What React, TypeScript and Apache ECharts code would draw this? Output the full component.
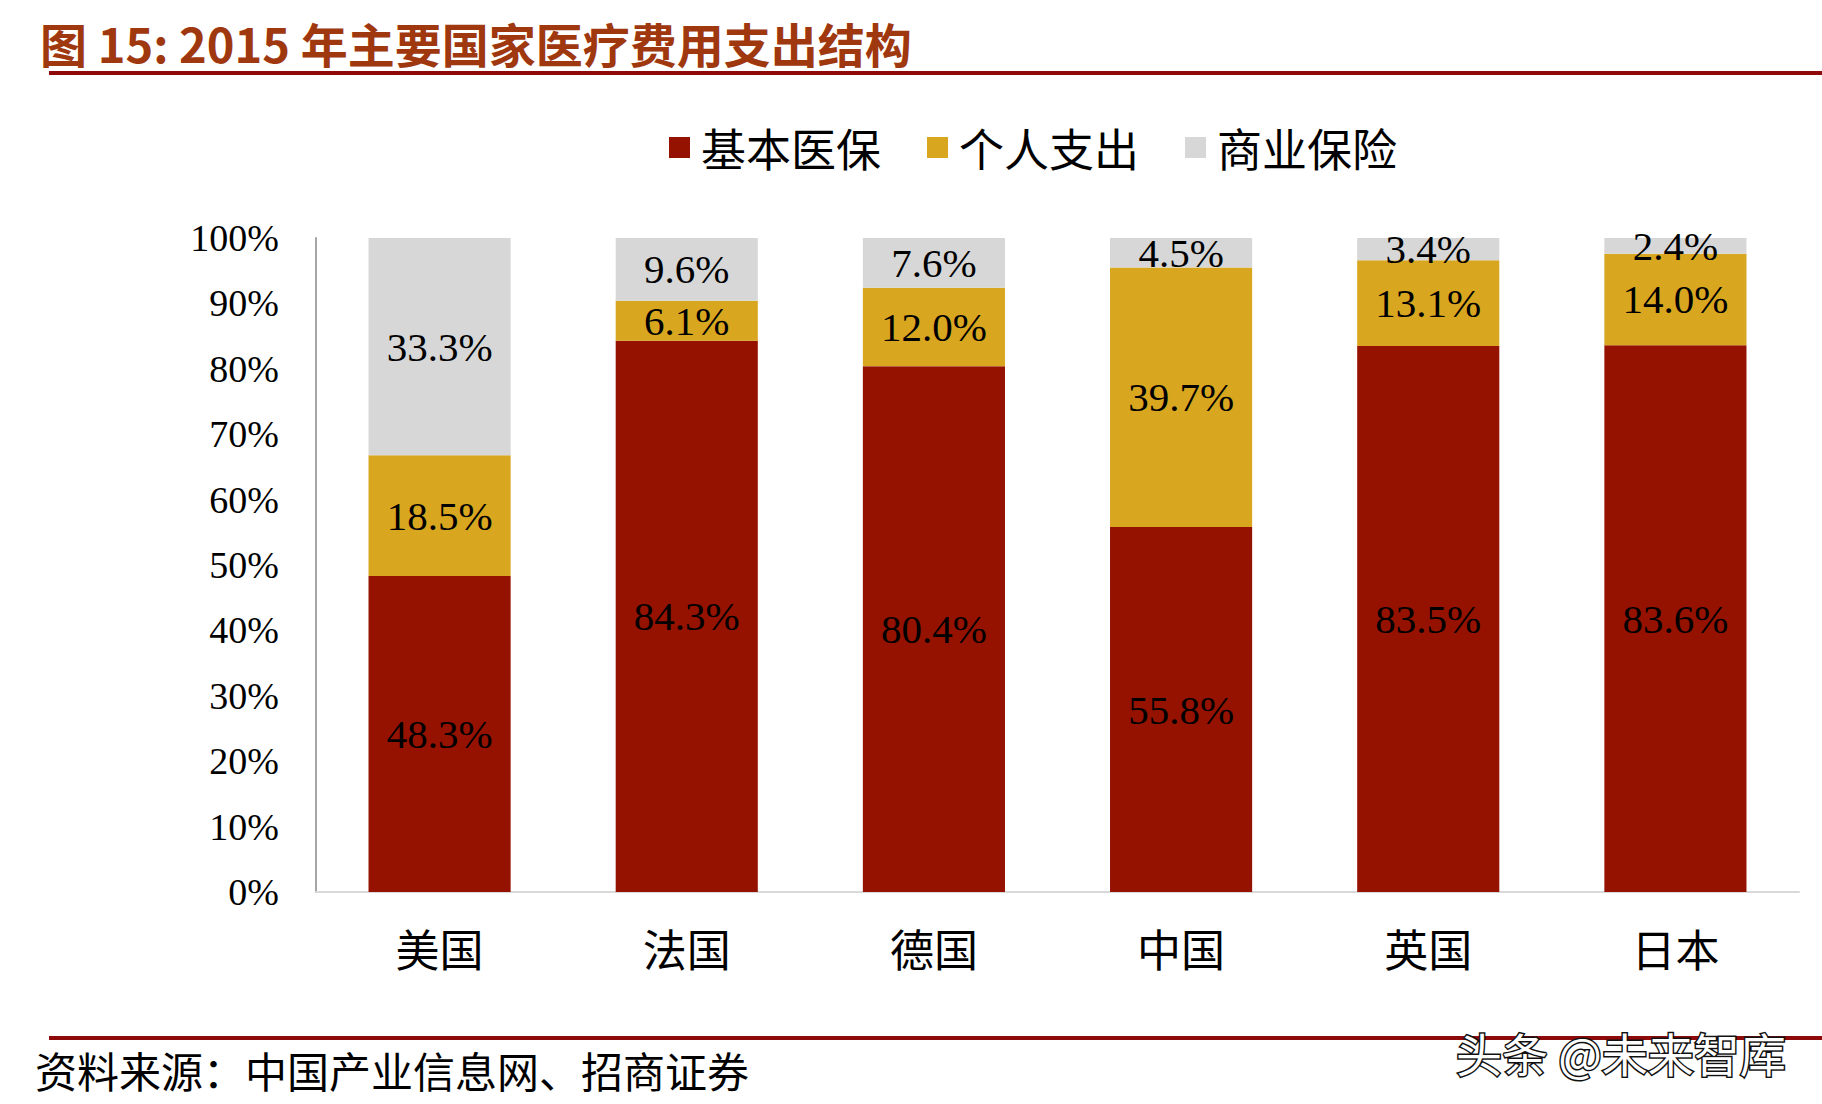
import { useEffect, useRef } from "react";
import * as echarts from "echarts";

const countries = ["美国", "法国", "德国", "中国", "英国", "日本"];
const basicInsurance = [48.3, 84.3, 80.4, 55.8, 83.5, 83.6];
const outOfPocket = [18.5, 6.1, 12.0, 39.7, 13.1, 14.0];
const commercialInsurance = [33.3, 9.6, 7.6, 4.5, 3.4, 2.4];
const seriesNames = ["基本医保", "个人支出", "商业保险"];
const seriesColors = ["#951200", "#D9A620", "#D7D7D7"];

const titleText = "图 15: 2015 年主要国家医疗费用支出结构";
const sourceText = "资料来源：中国产业信息网、招商证券";
const watermarkText = "头条 @未来智库";

const cjk = "'Noto Sans CJK SC', sans-serif";
const serif = "'Liberation Serif', 'Times New Roman', serif";

export default function App() {
  const chartRef = useRef<HTMLDivElement>(null);

  useEffect(() => {
    if (!chartRef.current) return;
    const chart = echarts.init(chartRef.current, undefined, { renderer: "svg" });

    const label = {
      show: true,
      position: "inside" as const,
      color: "#000",
      fontFamily: serif,
      fontSize: 41,
      formatter: (p: any) => `${Number(p.value).toFixed(1)}%`,
    };

    const option: echarts.EChartsOption = {
      animation: false,
      backgroundColor: "#fff",
      title: {
        text: titleText,
        left: 35,
        top: 14,
        textStyle: {
          color: "#A0380F",
          fontFamily: cjk,
          fontWeight: "bold",
          fontSize: 47,
        },
      },
      legend: {
        left: 664,
        top: 120,
        icon: "rect",
        itemWidth: 21,
        itemHeight: 21,
        itemGap: 46,
        textStyle: {
          fontFamily: cjk,
          fontSize: 45,
          color: "#000",
          padding: [0, 0, 0, 6],
        },
        data: seriesNames,
      },
      grid: {
        left: 316,
        right: 23,
        top: 238,
        bottom: 212,
        containLabel: false,
      },
      xAxis: {
        type: "category",
        data: countries,
        axisLine: { lineStyle: { color: "#D9D9D9", width: 2 } },
        axisTick: { show: false },
        axisLabel: {
          fontFamily: cjk,
          fontSize: 44,
          color: "#000",
          margin: 34,
        },
      },
      yAxis: {
        type: "value",
        min: 0,
        max: 100,
        interval: 10,
        axisLine: { show: true, lineStyle: { color: "#A6A6A6", width: 2 } },
        axisTick: { show: false },
        splitLine: { show: false },
        axisLabel: {
          formatter: "{value}%",
          fontFamily: serif,
          fontSize: 38,
          color: "#000",
          margin: 37,
          padding: [14, 0, 0, 0],
        },
      },
      series: [
        {
          name: seriesNames[0],
          type: "bar",
          stack: "total",
          barWidth: "57.5%",
          data: basicInsurance,
          itemStyle: { color: seriesColors[0] },
          label,
        },
        {
          name: seriesNames[1],
          type: "bar",
          stack: "total",
          data: outOfPocket,
          itemStyle: { color: seriesColors[1] },
          label,
        },
        {
          name: seriesNames[2],
          type: "bar",
          stack: "total",
          data: commercialInsurance,
          itemStyle: { color: seriesColors[2] },
          label,
        },
      ],
      graphic: [
        {
          type: "line",
          shape: { x1: 49, y1: 73, x2: 1822, y2: 73 },
          style: { stroke: "#8E0A0A", lineWidth: 4 },
        },
        {
          type: "line",
          shape: { x1: 49, y1: 1038, x2: 1822, y2: 1038 },
          style: { stroke: "#8E0A0A", lineWidth: 4 },
        },
        {
          type: "text",
          x: 35,
          y: 1069,
          style: {
            text: sourceText,
            fontFamily: cjk,
            fontSize: 42,
            fill: "#000",
            verticalAlign: "middle",
          },
        },
        {
          type: "text",
          x: 1456,
          y: 1052,
          z: 10,
          style: {
            text: watermarkText,
            fontFamily: cjk,
            fontSize: 46,
            fill: "#fff",
            stroke: "#111",
            lineWidth: 3,
            verticalAlign: "middle",
          },
        },
      ],
    };

    chart.setOption(option);
    return () => {
      chart.dispose();
    };
  }, []);

  return (
    <div
      ref={chartRef}
      style={{ position: "fixed", left: 0, top: 0, width: "1822px", height: "1104px" }}
    />
  );
}
